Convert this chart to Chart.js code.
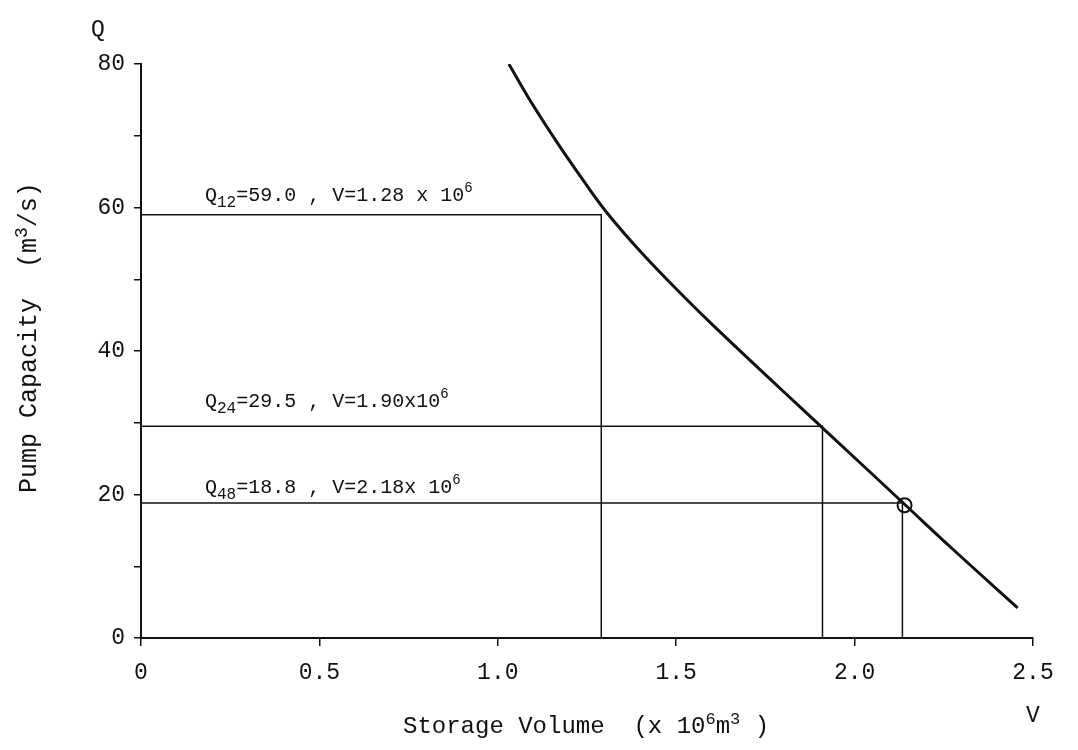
<!DOCTYPE html>
<html>
<head>
<meta charset="utf-8">
<script src="https://cdn.jsdelivr.net/npm/chart.js@4/dist/chart.umd.min.js"></script>
<style>
  html, body { margin: 0; padding: 0; background: #fff; }
  canvas { display: block; }
</style>
</head>
<body>
<canvas id="c" width="1078" height="750"></canvas>
<script>
// ---- data ----
const curveV = [1.031, 1.092, 1.167, 1.242, 1.307, 1.401, 1.517, 1.605, 1.793, 1.925, 2.143, 2.277, 2.457];
const curveQ = [80.0, 74.8, 69.0, 63.6, 59.2, 53.8, 47.8, 43.5, 34.7, 28.6, 18.5, 12.3, 4.2];

const guideQ = [59.0, 29.5, 18.8];          // horizontal guide levels
const guideV = [1.29, 1.91, 2.134];         // vertical guide positions (as drawn)
const guideSub = ['12', '24', '48'];
const guideText = ['=59.0 , V=1.28 x 10', '=29.5 , V=1.90x10', '=18.8 , V=2.18x 10'];

const markV = [2.14];
const markQ = [18.5];

const xTicks = [0, 0.5, 1.0, 1.5, 2.0, 2.5];
const yTicks = [0, 20, 40, 60, 80];

const FONT = "'Liberation Mono', 'DejaVu Sans Mono', monospace";
const INK = '#111';

const datasets = [];
datasets.push({
  label: 'curve',
  data: curveV.map((v, i) => ({ x: v, y: curveQ[i] })),
  showLine: true,
  borderColor: INK,
  borderWidth: 3,
  pointRadius: 0,
  tension: 0.4,
  fill: false
});
guideQ.forEach((q, i) => {
  datasets.push({
    label: 'guide' + i,
    data: [{ x: 0, y: q }, { x: guideV[i], y: q }, { x: guideV[i], y: 0 }],
    showLine: true,
    borderColor: INK,
    borderWidth: 1.5,
    pointRadius: 0,
    tension: 0,
    fill: false
  });
});
datasets.push({
  label: 'mark',
  data: markV.map((v, i) => ({ x: v, y: markQ[i] })),
  showLine: false,
  pointRadius: 7,
  pointBorderWidth: 2,
  pointBorderColor: INK,
  pointBackgroundColor: 'rgba(0,0,0,0)'
});

function drawRich(ctx, x, y, segs, size) {
  let cx = x;
  segs.forEach(([t, mode]) => {
    let fs = size, dy = 0;
    if (mode === 'sub') { fs = Math.round(size * 0.8); dy = 6; }
    if (mode === 'sup') { fs = Math.round(size * 0.72); dy = -9; }
    ctx.font = fs + 'px ' + FONT;
    ctx.fillText(t, cx, y + dy);
    cx += ctx.measureText(t).width;
  });
  return cx - x;
}

const textPlugin = {
  id: 'texts',
  afterDraw(chart) {
    const ctx = chart.ctx;
    const xs = chart.scales.x, ys = chart.scales.y;
    ctx.save();
    ctx.fillStyle = INK;
    ctx.textBaseline = 'alphabetic';
    ctx.textAlign = 'left';
    // annotations
    const offs = [14, 19, 10];
    guideQ.forEach((q, i) => {
      const px = xs.getPixelForValue(0) + 64;
      const py = ys.getPixelForValue(q) - offs[i];
      drawRich(ctx, px, py, [['Q', 'n'], [guideSub[i], 'sub'], [guideText[i], 'n'], ['6', 'sup']], 20);
    });
    // axis end labels
    ctx.font = '23px ' + FONT;
    ctx.textAlign = 'center';
    ctx.fillText('Q', 98, 36);
    ctx.fillText('V', xs.getPixelForValue(2.5), 722);
    ctx.textAlign = 'left';
    // x title
    drawRich(ctx, 403, 733, [['Storage Volume  (x 10', 'n'], ['6', 'sup'], ['m', 'n'], ['3', 'sup'], [' )', 'n']], 24);
    // y title
    ctx.translate(36, 493);
    ctx.rotate(-Math.PI / 2);
    drawRich(ctx, 0, 0, [['Pump Capacity  (m', 'n'], ['3', 'sup'], ['/s)', 'n']], 25);
    ctx.restore();
  }
};

new Chart(document.getElementById('c'), {
  type: 'scatter',
  data: { datasets },
  options: {
    responsive: false,
    devicePixelRatio: 1,
    animation: false,
    layout: { padding: { left: 0, top: 64, right: 45, bottom: 0 } },
    plugins: { legend: { display: false }, tooltip: { enabled: false } },
    scales: {
      x: {
        type: 'linear',
        min: 0, max: 2.5,
        afterFit(s) { s.height = 112; },
        afterBuildTicks(s) { s.ticks = xTicks.map(v => ({ value: v })); },
        ticks: {
          color: INK,
          font: { family: FONT, size: 23 },
          padding: 13,
          autoSkip: false,
          maxRotation: 0,
          callback: v => (v === 0 ? '0' : v.toFixed(1))
        },
        grid: { drawOnChartArea: false, drawTicks: true, tickLength: 8, color: INK, lineWidth: 1.5 },
        border: { display: true, color: INK, width: 2 }
      },
      y: {
        type: 'linear',
        min: 0, max: 80,
        afterFit(s) { s.width = 141; },
        ticks: {
          stepSize: 10,
          color: INK,
          font: { family: FONT, size: 23 },
          padding: 9,
          autoSkip: false,
          callback: v => (yTicks.includes(v) ? String(v) : '')
        },
        grid: { drawOnChartArea: false, drawTicks: true, tickLength: 7, color: INK, lineWidth: 1.5 },
        border: { display: true, color: INK, width: 2 }
      }
    }
  },
  plugins: [textPlugin]
});
</script>
</body>
</html>
